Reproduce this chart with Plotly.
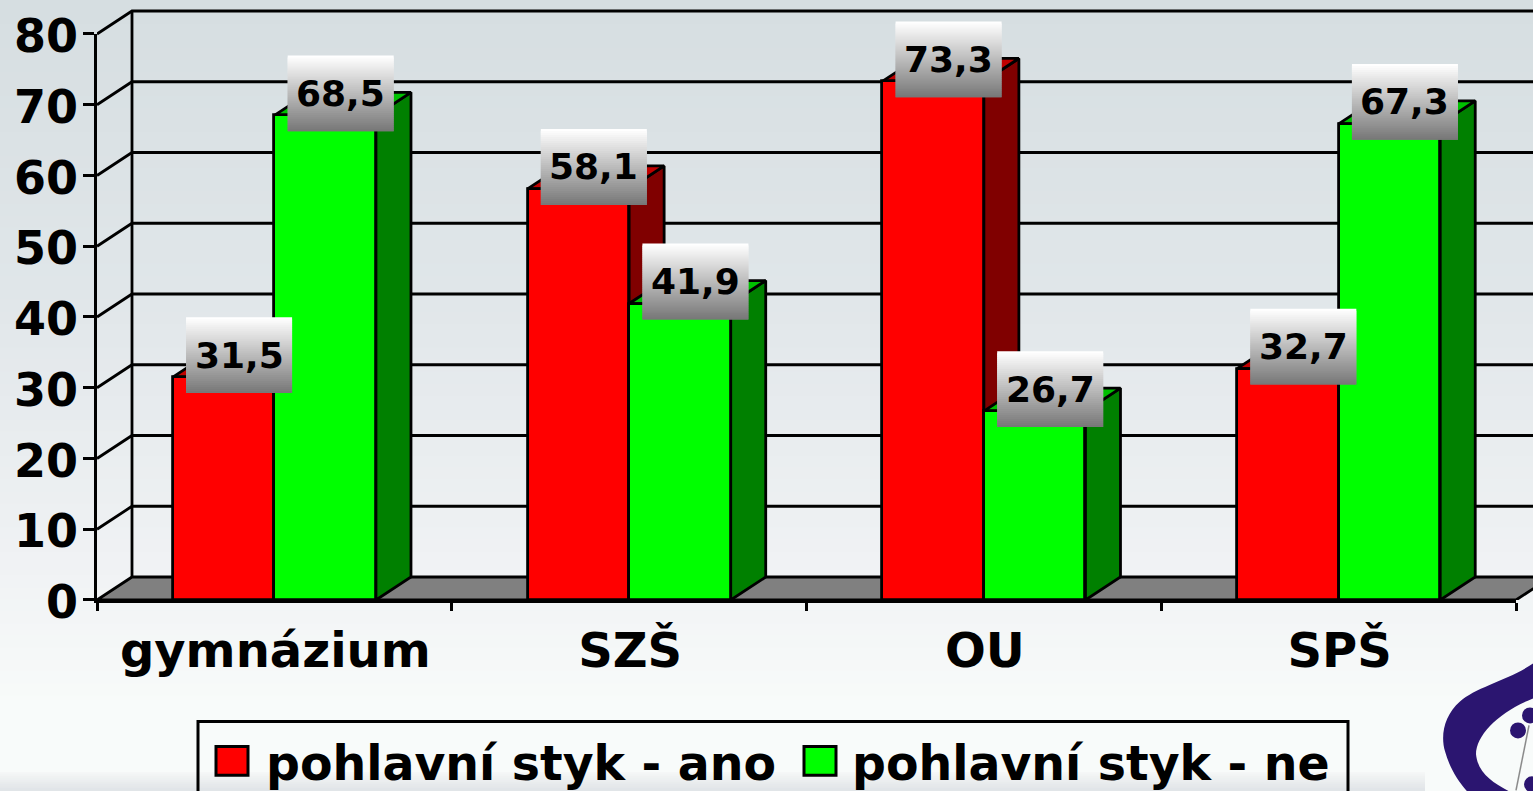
import plotly.graph_objects as go

categories = ["gymnázium", "SZŠ", "OU", "SPŠ"]
ano = [31.5, 58.1, 73.3, 32.7]
ne = [68.5, 41.9, 26.7, 67.3]
label_ano = ["31,5", "58,1", "73,3", "32,7"]
label_ne = ["68,5", "41,9", "26,7", "67,3"]
y_ticks = [0, 10, 20, 30, 40, 50, 60, 70, 80]
series_names = ["pohlavní styk - ano", "pohlavní styk - ne"]

W, H = 1533, 791
L, R, T, B = 97.0, 1516.0, 34.0, 600.5
PT = 5.0  # top of the plot area, above the 80 line so the back wall fits
FONT = "DejaVu Sans"
XU = (R - L) / 4
YU = (B - T) / 80
DX, DY = 35 / XU, 23 / YU
BW = 101.6 / XU
LW = 2.8
RED, GREEN = "#ff0000", "#00ff00"


def px(x):
    return (x - L) / (W - L)


def py(y):
    return (B - y) / (B - PT)


def lerp(c1, c2, t):
    return "rgb(%d,%d,%d)" % tuple(round(a + (b - a) * t) for a, b in zip(c1, c2))


fig = go.Figure()
shapes, annos = [], []

# page background
stops = [(0, (214, 222, 225)), (280, (224, 230, 233)), (560, (240, 242, 244)),
         (700, (248, 251, 250)), (791, (248, 251, 250))]
step = 12
for y in range(0, H, step):
    for (a, ca), (b, cb) in zip(stops, stops[1:]):
        if a <= y < b:
            col = lerp(ca, cb, (y - a) / (b - a))
            break
    shapes.append(dict(type="rect", xref="paper", yref="paper", layer="below",
                       x0=px(0), x1=px(W), y0=py(y), y1=py(y + step + 1),
                       fillcolor=col, line_width=0))
for y in range(773, 791, 2):
    col = lerp((244, 246, 246), (223, 227, 230), (y - 773) / 18)
    shapes.append(dict(type="rect", xref="paper", yref="paper", layer="below",
                       x0=px(0), x1=px(1425), y0=py(y), y1=py(y + 3),
                       fillcolor=col, line_width=0))


def line(xs, ys, color="#000000", width=LW):
    fig.add_trace(go.Scatter(x=xs, y=ys, mode="lines", line=dict(color=color, width=width),
                             showlegend=False, hoverinfo="skip", cliponaxis=False,
                             xaxis="x", yaxis="y"))


def poly(xs, ys, fill):
    fig.add_trace(go.Scatter(x=xs + xs[:1], y=ys + ys[:1], mode="lines", fill="toself",
                             fillcolor=fill, line=dict(color="#000000", width=LW),
                             showlegend=False, hoverinfo="skip", cliponaxis=False,
                             xaxis="x", yaxis="y"))


x0, x1 = -0.5, 3.5
x_edge = x0 + (W - L) / XU
y_edge = (B - PT) / YU
# floor
poly([x0, x0 + DX, x1 + DX, x1], [0, DY, DY, 0], "#808080")
# back wall and side wall
for v in y_ticks[1:]:
    line([x0, x0 + DX, x_edge], [v, v + DY, v + DY])
line([x0 + DX, x0 + DX], [DY, 80 + DY])

# bar depth faces
for i in range(4):
    for sign, v, side, top in ((-1, ano[i], "#800000", "#c00000"), (1, ne[i], "#008000", "#00c000")):
        a = i + (sign - 1) / 2 * BW
        b = a + BW
        poly([b, b + DX, b + DX, b], [0, DY, v + DY, v], side)
        poly([a, b, b + DX, a + DX], [v, v, v + DY, v + DY], top)

# bar fronts (second subplot, so they sit above the depth faces)
xs = list(range(4))
fig.add_trace(go.Bar(x=xs, y=ano, name=series_names[0], width=BW, offset=-BW,
                     marker=dict(color=RED, line=dict(color="#000000", width=LW)),
                     xaxis="x2", yaxis="y2", showlegend=False))
fig.add_trace(go.Bar(x=xs, y=ne, name=series_names[1], width=BW, offset=0,
                     marker=dict(color=GREEN, line=dict(color="#000000", width=LW)),
                     xaxis="x2", yaxis="y2", showlegend=False))

# value labels with a white-to-grey gradient box
BOX_W, BOX_H = 106 / XU, 76 / YU
OFF_X, OFF_Y = 15.5 / XU, 22 / YU
n_steps = 38
for i in range(4):
    for cx, v, txt in ((i - BW / 2, ano[i], label_ano[i]), (i + BW / 2, ne[i], label_ne[i])):
        xc, yc = cx + OFF_X, v + OFF_Y
        for k in range(n_steps):
            t0 = yc + BOX_H / 2 - BOX_H * k / n_steps
            t1 = yc + BOX_H / 2 - BOX_H * (k + 1) / n_steps if k == n_steps - 1 else yc + BOX_H / 2 - BOX_H * (k + 2) / n_steps
            shapes.append(dict(type="rect", xref="x", yref="y", layer="above",
                               x0=xc - BOX_W / 2, x1=xc + BOX_W / 2, y0=t0, y1=t1,
                               fillcolor=lerp((255, 255, 255), (120, 120, 120), k / (n_steps - 1)),
                               line_width=0))
        annos.append(dict(x=xc, y=yc, xref="x", yref="y", text=txt, showarrow=False,
                          xanchor="center", yanchor="middle",
                          font=dict(family=FONT, size=36, color="#000000", weight="bold")))

# legend box
LBL = 3
shapes.append(dict(type="rect", xref="paper", yref="paper", layer="above",
                   x0=px(198), x1=px(1348), y0=py(722), y1=py(810),
                   line=dict(color="#000000", width=LBL), fillcolor="rgba(0,0,0,0)"))
for sx, col, tx, name in ((216, RED, 264, series_names[0]), (804, GREEN, 850, series_names[1])):
    shapes.append(dict(type="rect", xref="paper", yref="paper", layer="above",
                       x0=px(sx), x1=px(sx + 32), y0=py(747), y1=py(776),
                       fillcolor=col, line=dict(color="#000000", width=LBL)))
    annos.append(dict(x=px(tx), y=py(764), xref="paper", yref="paper", text=name, showarrow=False,
                      xanchor="left", yanchor="middle",
                      font=dict(family=FONT, size=47.4, color="#000000", weight="bold")))

# logo
def P(x, y):
    return f"{px(x):.5f},{py(y):.5f}"
crescent = ("M" + P(1533, 664) + " C" + P(1510, 680) + " " + P(1475, 688) + " " + P(1460, 702)
            + " C" + P(1445, 715) + " " + P(1440, 735) + " " + P(1445, 752)
            + " C" + P(1450, 770) + " " + P(1460, 785) + " " + P(1470, 795)
            + " L" + P(1515, 795) + " C" + P(1495, 785) + " " + P(1478, 775) + " " + P(1476, 755)
            + " C" + P(1476, 735) + " " + P(1500, 712) + " " + P(1533, 699) + " Z")
shapes.append(dict(type="path", xref="paper", yref="paper", layer="above", path=crescent,
                   fillcolor="#2b1570", line_width=0))
for cx, cy, r in ((1518, 731, 8), (1530, 716, 8), (1532, 785, 8)):
    shapes.append(dict(type="circle", xref="paper", yref="paper", layer="above",
                       x0=px(cx - r), x1=px(cx + r), y0=py(cy - r), y1=py(cy + r),
                       fillcolor="#2b1570", line_width=0))
shapes.append(dict(type="line", xref="paper", yref="paper", layer="above",
                   x0=px(1529), y0=py(726), x1=px(1516), y1=py(791),
                   line=dict(color="#8a8a8a", width=1.5)))

fig.update_layout(
    width=W, height=H, autosize=False,
    margin=dict(l=L, r=0, t=PT, b=H - B, pad=0, autoexpand=False),
    paper_bgcolor="#ffffff", plot_bgcolor="rgba(0,0,0,0)",
    showlegend=False, bargap=0,
    shapes=shapes, annotations=annos,
    # hidden full-area axes for the depth faces and walls, same scale as the visible ones
    xaxis=dict(range=[x0, x_edge], visible=False, fixedrange=True),
    yaxis=dict(range=[0, y_edge], visible=False, fixedrange=True),
    xaxis2=dict(range=[x0, x1], domain=[0, (R - L) / (W - L)], anchor="y2",
                tickmode="array", tickvals=xs, ticktext=categories,
                ticks="", showgrid=False, zeroline=False, showline=True,
                linecolor="#000000", linewidth=LW, fixedrange=True,
                tickfont=dict(family=FONT, size=48, color="#000000", weight="bold"),
                ticklabelstandoff=6, ticklabelshift=1,
                minor=dict(tickmode="array", tickvals=[-0.5, 0.5, 1.5, 2.5, 3.5],
                           ticks="outside", ticklen=8, tickwidth=LW, tickcolor="#000000",
                           showgrid=False)),
    yaxis2=dict(range=[0, 80], domain=[0, (B - T) / (B - PT)], anchor="x2",
                tickmode="array", tickvals=y_ticks, ticks="outside",
                ticklen=11, tickwidth=LW, tickcolor="#000000", showgrid=False, zeroline=False,
                showline=True, linecolor="#000000", linewidth=LW, fixedrange=True,
                tickfont=dict(family=FONT, size=46, color="#000000", weight="bold"),
                ticklabelstandoff=-4, ticklabelshift=2),
)

fig.write_html("out.html", config=dict(displayModeBar=False),
               post_script="document.body.style.margin='0';document.body.style.overflow='hidden';")
